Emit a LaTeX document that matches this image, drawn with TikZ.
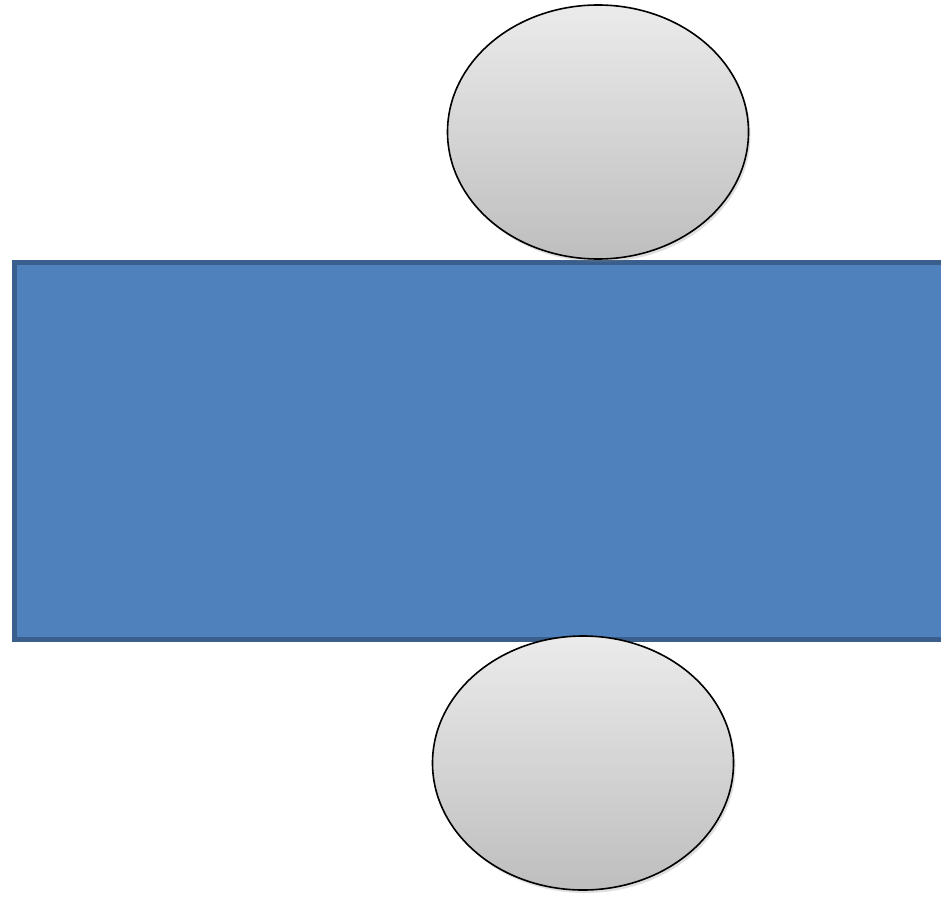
\documentclass[tikz,border=0pt]{standalone}
\usetikzlibrary{shapes.geometric,shadows}
\definecolor{boxfill}{HTML}{4F81BD}
\definecolor{boxline}{HTML}{3A5F8C}
\definecolor{discTop}{HTML}{EBEBEB}
\definecolor{discBot}{HTML}{BEBEBE}
\tikzset{
  net/.style={draw=boxline, line width=5pt, fill=boxfill},
  disc/.style={ellipse, draw=black, line width=1.6pt, inner sep=0pt,
    minimum width=301pt, minimum height=254pt,
    top color=discTop, bottom color=discBot,
    drop shadow={opacity=0.25, shadow xshift=2pt, shadow yshift=-3pt}},
}
\begin{document}
\begin{tikzpicture}[x=1pt,y=-1pt]
\useasboundingbox (0,0) rectangle (941,896);
\clip (0,0) rectangle (941,896);
\fill[white] (0,0) rectangle (941,896);
\node[net, rectangle, inner sep=0pt, minimum width=950pt, minimum height=377pt, anchor=north west] (body) at (11.5,260) {};
\node[disc] (topdisc) at (598,132) {};
\node[disc] (botdisc) at (583,763) {};
\end{tikzpicture}
\end{document}
